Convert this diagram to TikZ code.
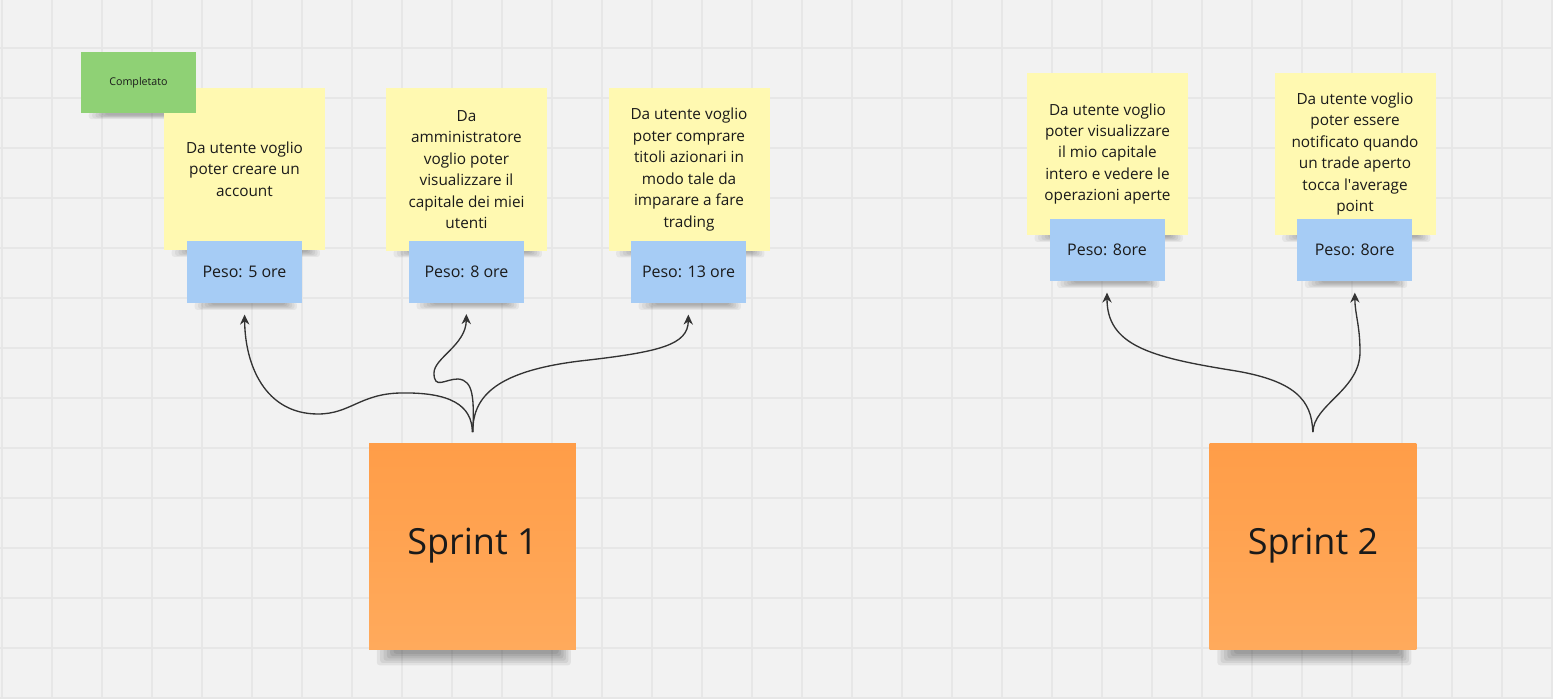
\documentclass[tikz,border=0pt]{standalone}
\usepackage{fontspec}
\setmainfont{Open Sans}
\usetikzlibrary{arrows.meta}

\definecolor{boardbg}{RGB}{242,242,242}
\definecolor{gridcol}{RGB}{231,231,231}
\definecolor{noteyellow}{RGB}{255,249,177}
\definecolor{noteblue}{RGB}{166,204,245}
\definecolor{noteorange}{RGB}{255,157,72}
\definecolor{noteorangelt}{RGB}{255,170,92}
\definecolor{notegreen}{RGB}{143,209,117}
\definecolor{inkcol}{RGB}{26,26,26}
\definecolor{linkcol}{RGB}{51,51,51}

\pgfdeclarelayer{grid}
\pgfdeclarelayer{shade}
\pgfsetlayers{grid,shade,main}

\tikzset{every picture/.style={line width=0.75pt}}
\tikzset{
  gridline/.style={draw=gridcol, line width=0.9pt},
  story/.style={fill=noteyellow, minimum width=120.75pt, minimum height=121.5pt, align=center, text=inkcol, font=\fontsize{11.5}{16.1}\selectfont, inner sep=0pt},
  weight/.style={fill=noteblue, minimum width=86.25pt, minimum height=46.5pt, text=inkcol, font=\fontsize{12}{14}\selectfont, inner sep=0pt},
  sprint/.style={top color=noteorange, bottom color=noteorangelt, minimum width=155pt, minimum height=154.5pt, text=inkcol, font=\fontsize{27}{32}\selectfont, inner sep=0pt},
  donetag/.style={fill=notegreen, minimum width=86.25pt, minimum height=46pt, text=inkcol, font=\fontsize{8}{10}\selectfont, inner sep=0pt},
  link/.style={draw=linkcol, line width=1pt, -{Stealth[length=7.5pt,width=7pt]}, shorten <=8pt, shorten >=8.5pt},
}

% soft shadow under a sticky note (y axis is flipped, so +yshift goes down)
\newcommand{\noteshade}[3]{%
  \begin{pgfonlayer}{shade}
    \foreach \k in {0,...,5} {
      \fill[black, opacity=#3, rounded corners=2pt] ([xshift={6pt+2.5pt*\k}, yshift=-1pt]#1.south west) rectangle ([xshift={-4pt-1.8pt*\k}, yshift={#2*(1-\k/7)}]#1.south east);
    }
  \end{pgfonlayer}}

\begin{document}
\begin{tikzpicture}[x=0.75pt,y=0.75pt,yscale=-1,xscale=1]
\useasboundingbox (0,0) rectangle (1553,699);

% Board
\begin{pgfonlayer}{grid}
\fill[boardbg] (0,0) rectangle (1553,699);
\foreach \gx in {2,52,...,1552} \draw[gridline] (\gx,0) -- (\gx,699);
\foreach \gy in {48,98,...,698} \draw[gridline] (0,\gy) -- (1553,\gy);
\end{pgfonlayer}

% Story Notes
\node[story] (y1) at (244.5,169) {Da utente voglio\\poter creare un\\account};
\node[story] (y2) at (466.5,169.5) {Da\\amministratore\\voglio poter\\visualizzare il\\capitale dei miei\\utenti};
\node[story] (y3) at (689,169.5) {Da utente voglio\\poter comprare\\titoli azionari in\\modo tale da\\imparare a fare\\trading};
\node[story] (y4) at (1107.5,154) {Da utente voglio\\poter visualizzare\\il mio capitale\\intero e vedere le\\operazioni aperte};
\node[story] (y5) at (1355,154) {Da utente voglio\\poter essere\\notificato quando\\un trade aperto\\tocca l\textquotesingle average\\point};

% Weight Notes
\node[weight] (b1) at (244.5,272) {Peso: 5 ore};
\node[weight] (b2) at (466.5,271.5) {Peso: 8 ore};
\node[weight] (b3) at (688.5,272) {Peso: 13 ore};
\node[weight] (b4) at (1107,250) {Peso: 8ore};
\node[weight] (b5) at (1354.7,250) {Peso: 8ore};

% Status Note
\node[donetag] (done) at (138.5,82.8) {Completato};

% Sprint Notes
\node[sprint] (s1) at (472.5,546) {Sprint 1};
\node[sprint] (s2) at (1313,546) {Sprint 2};

% Shadows
\noteshade{y1}{5pt}{0.05}
\noteshade{y2}{5pt}{0.05}
\noteshade{y3}{5pt}{0.05}
\noteshade{y4}{5pt}{0.05}
\noteshade{y5}{5pt}{0.05}
\noteshade{b1}{5pt}{0.05}
\noteshade{b2}{5pt}{0.05}
\noteshade{b3}{5pt}{0.05}
\noteshade{b4}{5pt}{0.05}
\noteshade{b5}{5pt}{0.05}
\noteshade{done}{4pt}{0.05}
\noteshade{s1}{12pt}{0.065}
\noteshade{s2}{12pt}{0.065}

% Connection
\draw[link] (s1.north) .. controls (472,405) and (450,392) .. (400,393) .. controls (360,394) and (350,414) .. (318,414) .. controls (265,414) and (245,365) .. (b1.south);
% Connection
\draw[link] (s1.north) .. controls (474,400) and (474,380) .. (458,379) .. controls (445,379) and (434,390) .. (434,373) .. controls (434,358) and (466,345) .. (b2.south);
% Connection
\draw[link] (s1.north) .. controls (473,400) and (490,372) .. (580,361) .. controls (660,352) and (688,345) .. (b3.south);
% Connection
\draw[link] (s2.north) .. controls (1312,400) and (1295,380) .. (1230,370) .. controls (1150,357) and (1107,345) .. (b4.south);
% Connection
\draw[link] (s2.north) .. controls (1313,405) and (1360,390) .. (1360,352) .. controls (1360,325) and (1355,315) .. (b5.south);

\end{tikzpicture}
\end{document}
